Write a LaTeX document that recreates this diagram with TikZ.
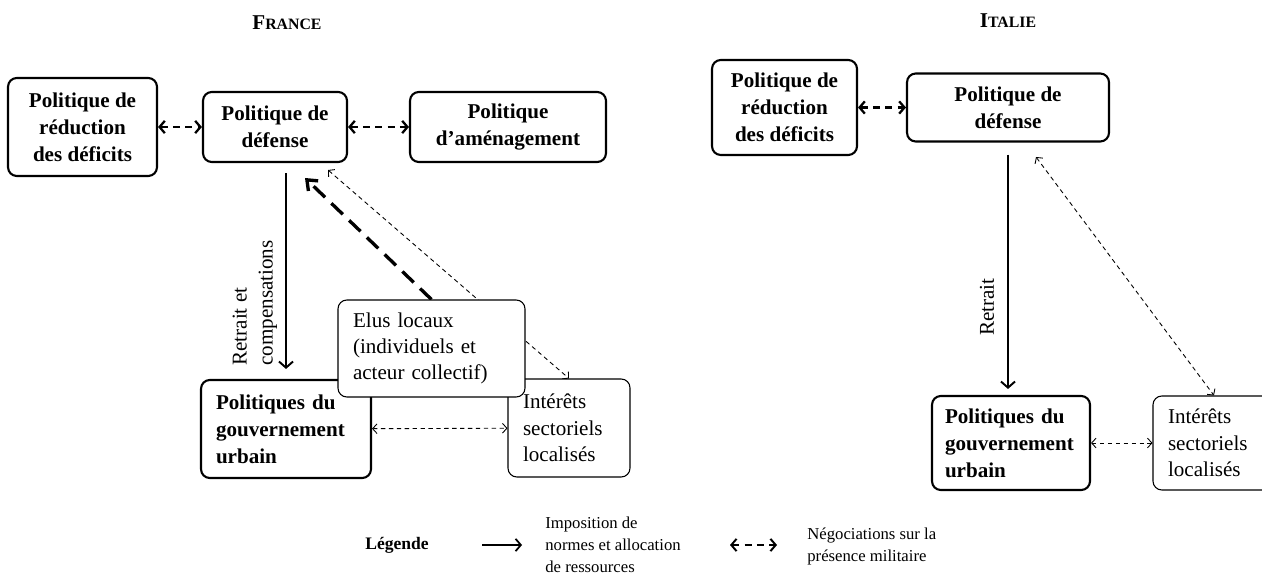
\documentclass[tikz,border=0pt]{standalone}
\usepackage{fontspec}
\setmainfont{Liberation Serif}
\usetikzlibrary{calc,arrows.meta,backgrounds}
\def\pcap#1#2{\textbf{\fontsize{12}{12}\selectfont #1\fontsize{9}{9}\selectfont #2}}

\tikzset{
	gras/.style={draw, line width=1.2pt, rounded corners=5pt, fill=white, inner sep=0pt, font=\bfseries\fontsize{12}{15.4}\selectfont},
	fin/.style={draw, line width=0.6pt, rounded corners=5pt, fill=white, inner sep=0pt, align=left, font=\fontsize{12}{15}\selectfont},
	negofort/.style={line width=1.3pt, dash pattern=on 4pt off 3pt, {Straight Barb[length=3pt,width=7pt]}-{Straight Barb[length=3pt,width=7pt]}},
	negofin/.style={line width=0.5pt, dash pattern=on 2.5pt off 2pt, {Straight Barb[length=2.5pt,width=5.5pt]}-{Straight Barb[length=2.5pt,width=5.5pt]}},
	impose/.style={line width=1.1pt, -{Straight Barb[length=3.5pt,width=8pt]}},
	elus/.style={line width=1.9pt, dash pattern=on 9pt off 5pt, -{Straight Barb[length=5pt,width=8pt]}},
	legende/.style={inner sep=0pt, align=left, font=\fontsize{9.5}{12.5}\selectfont}
}

\begin{document}
\begin{tikzpicture}[x=0.02cm, y=-0.02cm]
			%%%%% START %%%%%
			\useasboundingbox (0,0) rectangle (1262,574);
			\clip (0,0) rectangle (1262,574);
			
			\node (titreF) at (287,23) {\pcap{F}{RANCE}};
			\node (titreI) at (1008,21) {\pcap{I}{TALIE}};
			
			% France
			\node[gras, align=center, minimum width=2.98cm, minimum height=1.96cm] (redF) at (82.5,127) {Politique de\\réduction\\des déficits};
			\node[gras, align=center, minimum width=2.88cm, minimum height=1.4cm] (defF) at (275,127) {Politique de\\défense};
			\node[gras, align=center, minimum width=3.92cm, minimum height=1.4cm] (amenF) at (508,127) {Politique\\d’aménagement};
			\node[gras, align=left, text width=2.8cm, minimum width=3.4cm, minimum height=1.96cm] (urbF) at (286,429) {Politiques du\\gouvernement\\urbain};
			\node[fin, text width=1.84cm, minimum width=2.44cm, minimum height=1.96cm] (intF) at (569,428) {Intérêts\\sectoriels\\localisés};
			\node[fin, text width=3.14cm, minimum width=3.74cm, minimum height=1.94cm] (elusF) at (431.5,348.5) {Elus locaux\\(individuels et\\acteur collectif)};
			
			\coordinate (pointeE) at (305,178);
			\coordinate (pointeF) at (328,170);
			
			\node[rotate=90, anchor=west, inner sep=0pt, align=left, font=\fontsize{12}{14.8}\selectfont] (retraitF) at (255,366) {Retrait et\\compensations};
			
			% Italie
			\node[gras, align=center, minimum width=2.9cm, minimum height=1.9cm] (redI) at (784.5,107.5) {Politique de\\réduction\\des déficits};
			\node[gras, align=center, minimum width=4.04cm, minimum height=1.36cm] (defI) at (1008,107.5) {Politique de\\défense};
			\node[gras, align=left, text width=2.64cm, minimum width=3.16cm, minimum height=1.88cm] (urbI) at (1011,443) {Politiques du\\gouvernement\\urbain};
			\node[fin, text width=1.84cm, minimum width=2.44cm, minimum height=1.88cm] (intI) at (1214,443) {Intérêts\\sectoriels\\localisés};
			
			\coordinate (pointeI) at (1036,157);
			
			\node[rotate=90, inner sep=0pt, font=\fontsize{12}{14.8}\selectfont] (retraitI) at (987,307) {Retrait};
			
			\begin{pgfonlayer}{background}
				\draw[negofort] (redF) -- (defF);
				\draw[negofort] (defF) -- (amenF);
				\draw[impose, shorten <=0.2cm, shorten >=0.2cm] (urbF.north |- defF.south) -- (urbF.north);
				\draw[elus] (elusF.north) -- (pointeE);
				\draw[negofin] (pointeF) -- (intF.north);
				\draw[negofin] (urbF) -- (intF);
				
				\draw[negofort] (redI) -- (defI);
				\draw[impose, shorten <=0.24cm, shorten >=0.12cm] (defI.south) -- (defI.south |- urbI.north);
				\draw[negofin] (pointeI) -- (intI.north);
				\draw[negofin] (urbI) -- (intI);
			\end{pgfonlayer}
			
			% legende
			\node[inner sep=0pt, font=\bfseries\fontsize{10}{12}\selectfont] (leg) at (397,545) {Légende};
			\coordinate (legA) at (482,545);
			\coordinate (legB) at (522,545);
			\draw[line width=1pt, -{Straight Barb[length=3pt,width=7pt]}] (legA) -- (legB);
			\node[legende, anchor=west] (legImp) at (545,545) {Imposition de\\normes et allocation\\de ressources};
			\coordinate (legC) at (730,545);
			\coordinate (legD) at (777,545);
			\draw[negofort, line width=1.1pt] (legC) -- (legD);
			\node[legende, anchor=west] (legNeg) at (807,546) {Négociations sur la\\présence militaire};
			
			%%%%% END %%%%%
\end{tikzpicture}
\end{document}
